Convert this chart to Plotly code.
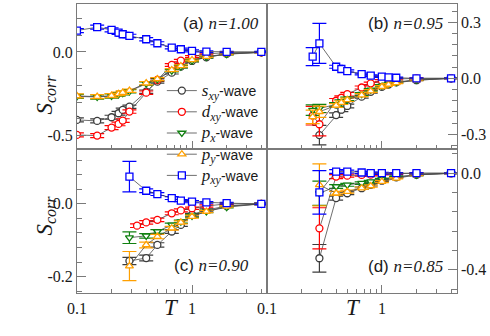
import plotly.graph_objects as go
from plotly.subplots import make_subplots

# ---------------- data ----------------
# (a) n=1.00
T_A = [0.1, 0.15, 0.2, 0.23, 0.25, 0.286, 0.4, 0.5, 0.667, 0.8, 1.0, 1.333, 2.0, 4.0]
SXY_A = [-0.407, -0.413, -0.391, -0.367, -0.347, -0.328, -0.238, -0.178, -0.124, -0.088, -0.054, -0.032, -0.012, -0.002]
DXY_A = [-0.497, -0.501, -0.453, -0.431, -0.411, -0.357, -0.244, -0.168, -0.078, -0.052, -0.028, -0.012, -0.004, -0.002]
PX_A = [-0.266, -0.270, -0.264, -0.254, -0.247, -0.236, -0.190, -0.165, -0.112, -0.088, -0.052, -0.030, -0.014, -0.002]
PY_A = [-0.263, -0.268, -0.262, -0.251, -0.244, -0.232, -0.187, -0.162, -0.108, -0.084, -0.048, -0.028, -0.012, -0.002]
PXY_A = [0.128, 0.148, 0.132, 0.116, 0.106, 0.096, 0.076, 0.052, 0.026, 0.016, 0.006, 0.002, 0.0, 0.0]
ERR_A = [0.012, 0.012, 0.012, 0.011, 0.011, 0.010, 0.010, 0.009, 0.008, 0.007, 0.006, 0.005, 0.004, 0.003]

# (b) n=0.95
T_B = [0.25, 0.286, 0.4, 0.444, 0.5, 0.667, 0.8, 1.0, 1.143, 1.333, 2.0, 4.0]
SXY_B = [None, -0.304, -0.197, -0.168, -0.148, -0.098, -0.072, -0.045, -0.033, -0.022, -0.010, 0.0]
DXY_B = [-0.200, -0.246, -0.120, -0.104, -0.085, -0.049, -0.027, -0.013, -0.008, -0.004, 0.0, 0.0]
PX_B = [-0.170, -0.161, -0.140, -0.125, -0.110, -0.085, -0.062, -0.040, -0.030, -0.020, -0.008, 0.0]
PY_B = [-0.206, -0.179, -0.145, -0.130, -0.115, -0.090, -0.068, -0.045, -0.033, -0.024, -0.010, 0.0]
PXY_B = [0.116, 0.187, 0.062, 0.050, 0.039, 0.023, 0.014, 0.009, 0.005, 0.003, 0.0, 0.0]
SXY_B_ERR = [0.0, 0.052, 0.012, 0.010, 0.010, 0.008, 0.007, 0.006, 0.005, 0.004, 0.003, 0.002]
DXY_B_ERR = [0.050, 0.062, 0.012, 0.010, 0.010, 0.008, 0.007, 0.006, 0.005, 0.004, 0.003, 0.002]
PX_B_ERR = [0.028, 0.022, 0.010, 0.010, 0.009, 0.008, 0.007, 0.006, 0.005, 0.004, 0.003, 0.002]
PY_B_ERR = [0.036, 0.030, 0.010, 0.010, 0.009, 0.008, 0.007, 0.006, 0.005, 0.004, 0.003, 0.002]
PXY_B_ERR = [0.048, 0.107, 0.008, 0.007, 0.006, 0.005, 0.005, 0.004, 0.004, 0.003, 0.002, 0.002]

# (c) n=0.90
T_C = [0.286, 0.333, 0.4, 0.5, 0.667, 0.8, 1.0, 1.333, 2.0, 4.0]
SXY_C = [-0.157, None, -0.149, -0.113, -0.076, -0.058, -0.030, -0.017, -0.006, 0.0]
DXY_C = [None, -0.060, -0.051, -0.044, -0.026, -0.018, -0.012, -0.006, 0.0, 0.0]
PX_C = [-0.093, None, -0.088, -0.076, -0.058, -0.049, -0.033, -0.021, -0.009, 0.0]
PY_C = [-0.171, None, -0.113, -0.090, -0.067, -0.051, -0.035, -0.021, -0.007, 0.0]
PXY_C = [0.075, None, 0.036, 0.027, 0.016, 0.009, 0.006, 0.004, 0.002, 0.0]
SXY_C_ERR = [0.010, 0.0, 0.008, 0.006, 0.005, 0.004, 0.004, 0.003, 0.002, 0.002]
DXY_C_ERR = [0.0, 0.005, 0.005, 0.005, 0.004, 0.004, 0.003, 0.003, 0.002, 0.002]
PX_C_ERR = [0.016, 0.0, 0.006, 0.005, 0.005, 0.004, 0.004, 0.003, 0.002, 0.002]
PY_C_ERR = [0.040, 0.0, 0.008, 0.006, 0.005, 0.004, 0.004, 0.003, 0.002, 0.002]
PXY_C_ERR = [0.042, 0.0, 0.005, 0.004, 0.004, 0.003, 0.003, 0.002, 0.002, 0.002]

# (d) n=0.85
T_D = [0.286, 0.4, 0.5, 0.667, 0.8, 1.0, 1.333, 2.0, 4.0]
SXY_D = [-0.352, -0.103, -0.083, -0.062, -0.048, -0.031, -0.017, -0.007, 0.0]
DXY_D = [-0.228, -0.014, -0.010, -0.007, -0.006, -0.003, -0.002, 0.0, 0.0]
PX_D = [-0.083, -0.055, -0.048, -0.041, -0.035, -0.025, -0.014, -0.007, 0.0]
PY_D = [-0.048, -0.083, -0.076, -0.062, -0.053, -0.035, -0.021, -0.007, 0.0]
PXY_D = [-0.079, 0.007, 0.007, 0.003, 0.0, 0.0, 0.0, 0.0, 0.0]
SXY_D_ERR = [0.057, 0.008, 0.006, 0.005, 0.005, 0.004, 0.003, 0.003, 0.002]
DXY_D_ERR = [0.085, 0.008, 0.006, 0.005, 0.005, 0.004, 0.003, 0.003, 0.002]
PX_D_ERR = [0.050, 0.008, 0.006, 0.005, 0.005, 0.004, 0.003, 0.003, 0.002]
PY_D_ERR = [0.087, 0.008, 0.006, 0.005, 0.005, 0.004, 0.003, 0.003, 0.002]
PXY_D_ERR = [0.090, 0.008, 0.006, 0.005, 0.005, 0.004, 0.003, 0.003, 0.002]

LABELS = ["<i>s</i><sub><i>xy</i></sub>", "<i>d</i><sub><i>xy</i></sub>",
          "<i>p</i><sub><i>x</i></sub>", "<i>p</i><sub><i>y</i></sub>",
          "<i>p</i><sub><i>xy</i></sub>"]
COLORS = ["#3c3c3c", "#ff0000", "#108010", "#ffa000", "#0000ff"]
SYMBOLS = ["circle", "circle", "triangle-down", "triangle-up", "square"]
SIZES = [7, 7, 7, 7, 7]

SERIF = "Liberation Serif"
SANS = "Liberation Sans"
AXIS_GREY = "#7a7a7a"

panels = [
    (T_A, [SXY_A, DXY_A, PX_A, PY_A, PXY_A], [ERR_A] * 5, 1, 1),
    (T_B, [SXY_B, DXY_B, PX_B, PY_B, PXY_B], [SXY_B_ERR, DXY_B_ERR, PX_B_ERR, PY_B_ERR, PXY_B_ERR], 1, 2),
    (T_C, [SXY_C, DXY_C, PX_C, PY_C, PXY_C], [SXY_C_ERR, DXY_C_ERR, PX_C_ERR, PY_C_ERR, PXY_C_ERR], 2, 1),
    (T_D, [SXY_D, DXY_D, PX_D, PY_D, PXY_D], [SXY_D_ERR, DXY_D_ERR, PX_D_ERR, PY_D_ERR, PXY_D_ERR], 2, 2),
]

fig = make_subplots(rows=2, cols=2, horizontal_spacing=0, vertical_spacing=0)

# dashed zero reference line in every panel
for r in (1, 2):
    for c in (1, 2):
        fig.add_hline(y=0, line=dict(color="#9a9a9a", width=1.2, dash="7px,5px"),
                      row=r, col=c, layer="below")

for k, (t, series, errs, r, c) in enumerate(panels):
    for i in range(5):
        fig.add_trace(
            go.Scatter(
                x=t,
                y=series[i],
                mode="lines+markers",
                connectgaps=True,
                name="<span style='font-family:%s;font-size:17px'>%s</span>-wave" % (SERIF, LABELS[i]),
                legendgroup="g%d" % i,
                showlegend=(k == 0),
                line=dict(color="#4a4a4a", width=0.8),
                marker=dict(symbol=SYMBOLS[i], size=SIZES[i], color="white",
                            line=dict(color=COLORS[i], width=1.3)),
                error_y=dict(type="data", array=errs[i], color=COLORS[i],
                             thickness=1.2, width=7),
            ),
            row=r,
            col=c,
        )

XL = [68.3 / 490, 262.3 / 490]
XR = [262.3 / 490, 456.0 / 490]
YT = [1 - 149.3 / 336, 1 - 4.0 / 336]
YB = [1 - 293.3 / 336, 1 - 149.3 / 336]

x_minor = [0.2, 0.3, 0.4, 0.5, 0.6, 0.7, 0.8, 0.9, 2, 3, 4]
xcommon = dict(type="log", range=[-1, 0.651], tickvals=[0.1, 1], ticktext=["0.1", "1"],
               ticks="inside", ticklen=8, tickcolor=AXIS_GREY, tickwidth=1,
               minor=dict(tickvals=x_minor, ticks="inside", ticklen=4, tickcolor=AXIS_GREY),
               showline=True, linecolor=AXIS_GREY, linewidth=1, mirror=True,
               showgrid=False, zeroline=False,
               tickfont=dict(family=SERIF, size=16, color="#1a1a1a"))
fig.update_xaxes(**xcommon)
fig.update_xaxes(domain=XL, showticklabels=False, row=1, col=1)
fig.update_xaxes(domain=XR, showticklabels=False, row=1, col=2)
fig.update_xaxes(domain=XL, row=2, col=1)
fig.update_xaxes(domain=XR, row=2, col=2)

ycommon = dict(ticks="inside", ticklen=9, tickcolor=AXIS_GREY, tickwidth=1,
               showline=True, linecolor=AXIS_GREY, linewidth=1, mirror=True,
               showgrid=False, zeroline=False,
               tickfont=dict(family=SERIF, size=16, color="#1a1a1a"))
fig.update_yaxes(**ycommon)
fig.update_yaxes(domain=YT, range=[-0.583, 0.287], tickvals=[-0.5, 0.0], ticktext=["-0.5", "0.0"],
                 minor=dict(tickmode="linear", tick0=0, dtick=0.1, ticks="inside", ticklen=5,
                            tickcolor=AXIS_GREY), row=1, col=1)
fig.update_yaxes(domain=YT, side="right", range=[-0.380, 0.398], tickvals=[-0.3, 0.0, 0.3],
                 ticktext=["-0.3", "0.0", "0.3"],
                 minor=dict(tickmode="linear", tick0=0, dtick=0.06, ticks="inside", ticklen=5,
                            tickcolor=AXIS_GREY), row=1, col=2)
fig.update_yaxes(domain=YB, range=[-0.246, 0.150], tickvals=[-0.2, 0.0], ticktext=["-0.2", "0.0"],
                 minor=dict(tickmode="linear", tick0=0, dtick=0.04, ticks="inside", ticklen=5,
                            tickcolor=AXIS_GREY), row=2, col=1)
fig.update_yaxes(domain=YB, side="right", range=[-0.497, 0.099], tickvals=[-0.4, 0.0],
                 ticktext=["-0.4", "0.0"],
                 minor=dict(tickmode="linear", tick0=0, dtick=0.08, ticks="inside", ticklen=5,
                            tickcolor=AXIS_GREY), row=2, col=2)

# panel labels
panel_text = [("(a)", "1.00", 256, 24), ("(b)", "0.95", 444, 24),
              ("(c)", "0.90", 246, 265), ("(d)", "0.85", 444, 266)]
for tag, n, px, py in panel_text:
    fig.add_annotation(
        x=px / 490, y=1 - py / 336, xref="paper", yref="paper",
        xanchor="right", yanchor="middle", showarrow=False,
        text="%s <span style='font-family:%s'><i>n=%s</i></span>" % (tag, SERIF, n),
        font=dict(family=SANS, size=17, color="#1a1a1a"),
    )

# axis titles
for yy in (73, 216):
    fig.add_annotation(x=20 / 490, y=1 - yy / 336, xref="paper", yref="paper",
                       showarrow=False, textangle=-90,
                       text="<i>S</i><sub><i>corr</i></sub>",
                       font=dict(family=SERIF, size=23, color="#1a1a1a"))
for xx in (165, 360):
    fig.add_annotation(x=xx / 490, y=1 - 322 / 336, xref="paper", yref="paper",
                       showarrow=False, text="<i>T</i>",
                       font=dict(family=SERIF, size=23, color="#1a1a1a"))

fig.update_layout(
    width=490,
    height=336,
    margin=dict(l=0, r=0, t=0, b=0),
    paper_bgcolor="white",
    plot_bgcolor="white",
    showlegend=True,
    legend=dict(x=155 / 490, y=1 - 75 / 336, xanchor="left", yanchor="top",
                bgcolor="rgba(0,0,0,0)", tracegroupgap=0, itemwidth=30,
                font=dict(family=SANS, size=14, color="#1a1a1a")),
)

# page body margin would otherwise shift the figure by 8px
fig.write_html("out.html",
               config={"displayModeBar": False},
               post_script="document.body.style.margin='0';document.body.style.overflow='hidden';")
